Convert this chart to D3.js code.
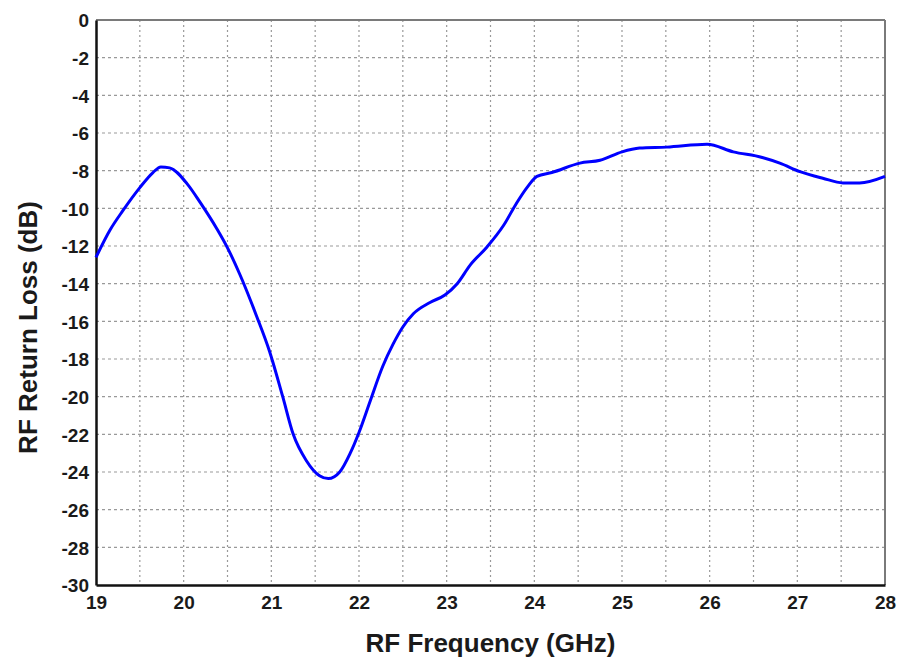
<!DOCTYPE html>
<html>
<head>
<meta charset="utf-8">
<script src="https://cdn.jsdelivr.net/npm/d3@7"></script>
<style>
  body { margin: 0; background: #fff; }
  text { font-family: "Liberation Sans", Arial, sans-serif; font-weight: bold; fill: #1a1a1a; }
</style>
</head>
<body>
<svg id="chart" width="899" height="659"></svg>
<script>
// frequency points (GHz)
var freqs = [19.0, 19.16, 19.31, 19.5, 19.65, 19.74, 19.84, 20.04, 20.19, 20.38,
  20.5, 20.64, 20.83, 20.98, 21.13, 21.25, 21.4, 21.55, 21.65, 21.78,
  21.9, 22.0, 22.13, 22.27, 22.39, 22.5, 22.62, 22.81, 22.98, 23.12, 23.27,
  23.46, 23.65, 23.8, 23.92, 24.03, 24.2, 24.52, 24.75, 25.0, 25.2,
  25.51, 25.97, 26.27, 26.6, 26.8, 27.03, 27.29, 27.52, 27.71, 28.0];

// return loss (dB)
var returnLoss = [-12.6, -11.15, -10.1, -8.9, -8.1, -7.8, -7.85, -8.7, -9.7, -11.1,
  -12.1, -13.5, -15.7, -17.6, -20.0, -22.0, -23.4, -24.2, -24.35, -24.0,
  -23.0, -21.9, -20.2, -18.4, -17.2, -16.3, -15.6, -15.0, -14.6, -14.0, -13.0,
  -12.05, -10.9, -9.7, -8.87, -8.3, -8.1, -7.6, -7.45, -7.0, -6.8,
  -6.75, -6.6, -7.0, -7.3, -7.6, -8.05, -8.4, -8.65, -8.65, -8.3];

var xTicks = [19, 20, 21, 22, 23, 24, 25, 26, 27, 28];
var yTicks = [0, -2, -4, -6, -8, -10, -12, -14, -16, -18, -20, -22, -24, -26, -28, -30];
var xGrid = d3.range(19.5, 28, 0.5);

var margin = {top: 20, left: 96, right: 14, bottom: 74};
var width = 899 - margin.left - margin.right;
var height = 659 - margin.top - margin.bottom;

var svg = d3.select('#chart');
var g = svg.append('g')
  .attr('transform', 'translate(' + margin.left + ',' + margin.top + ')');

var x = d3.scaleLinear().domain([19, 28]).range([0, width]);
var y = d3.scaleLinear().domain([-30, 0]).range([height, 0]);

// plain hyphen minus like the original
var fmt = function(d) { return String(d); };

// dotted grid
g.selectAll('.vgrid').data(xGrid).enter().append('line')
  .attr('class', 'vgrid')
  .attr('x1', function(d) { return x(d); })
  .attr('x2', function(d) { return x(d); })
  .attr('y1', 0).attr('y2', height)
  .attr('stroke', '#999').attr('stroke-width', 1.2)
  .attr('stroke-dasharray', '2,3');

g.selectAll('.hgrid').data(yTicks.slice(1, -1)).enter().append('line')
  .attr('class', 'hgrid')
  .attr('x1', 0).attr('x2', width)
  .attr('y1', function(d) { return y(d); })
  .attr('y2', function(d) { return y(d); })
  .attr('stroke', '#999').attr('stroke-width', 1.2)
  .attr('stroke-dasharray', '3,3');

// frame: top/right grey, left/bottom black
g.append('line').attr('x1', 0).attr('x2', width).attr('y1', 0).attr('y2', 0)
  .attr('stroke', '#7a7a7a').attr('stroke-width', 2);
g.append('line').attr('x1', width).attr('x2', width).attr('y1', 0).attr('y2', height)
  .attr('stroke', '#7a7a7a').attr('stroke-width', 2);

// axes
var xAxis = d3.axisBottom(x).tickValues(xTicks).tickSize(0).tickPadding(11)
  .tickFormat(fmt);
var yAxis = d3.axisLeft(y).tickValues(yTicks).tickSize(0).tickPadding(7)
  .tickFormat(fmt);

var gx = g.append('g')
  .attr('transform', 'translate(0,' + height + ')')
  .call(xAxis);
var gy = g.append('g').call(yAxis);

[gx, gy].forEach(function(a) {
  a.select('.domain').attr('stroke', '#111').attr('stroke-width', 2.5);
  a.selectAll('text')
    .style('font-size', '19px')
    .style('font-family', '"Liberation Sans", Arial, sans-serif')
    .style('font-weight', 'bold')
    .attr('fill', '#1a1a1a');
});
gy.selectAll('text').attr('dy', '0.36em');

// data line
var data = freqs.map(function(f, i) { return {f: f, v: returnLoss[i]}; });
var line = d3.line()
  .x(function(d) { return x(d.f); })
  .y(function(d) { return y(d.v); })
  .curve(d3.curveMonotoneX);

g.append('path')
  .datum(data)
  .attr('fill', 'none')
  .attr('stroke', '#0000ff')
  .attr('stroke-width', 3)
  .attr('stroke-linejoin', 'round')
  .attr('d', line);

// axis titles
svg.append('text')
  .attr('x', margin.left + width / 2)
  .attr('y', 652)
  .attr('text-anchor', 'middle')
  .style('font-size', '26px')
  .text('RF Frequency (GHz)');

svg.append('text')
  .attr('transform', 'translate(37,' + (margin.top + height / 2 + 25) + ') rotate(-90)')
  .attr('text-anchor', 'middle')
  .style('font-size', '26px')
  .text('RF Return Loss (dB)');
</script>
</body>
</html>
